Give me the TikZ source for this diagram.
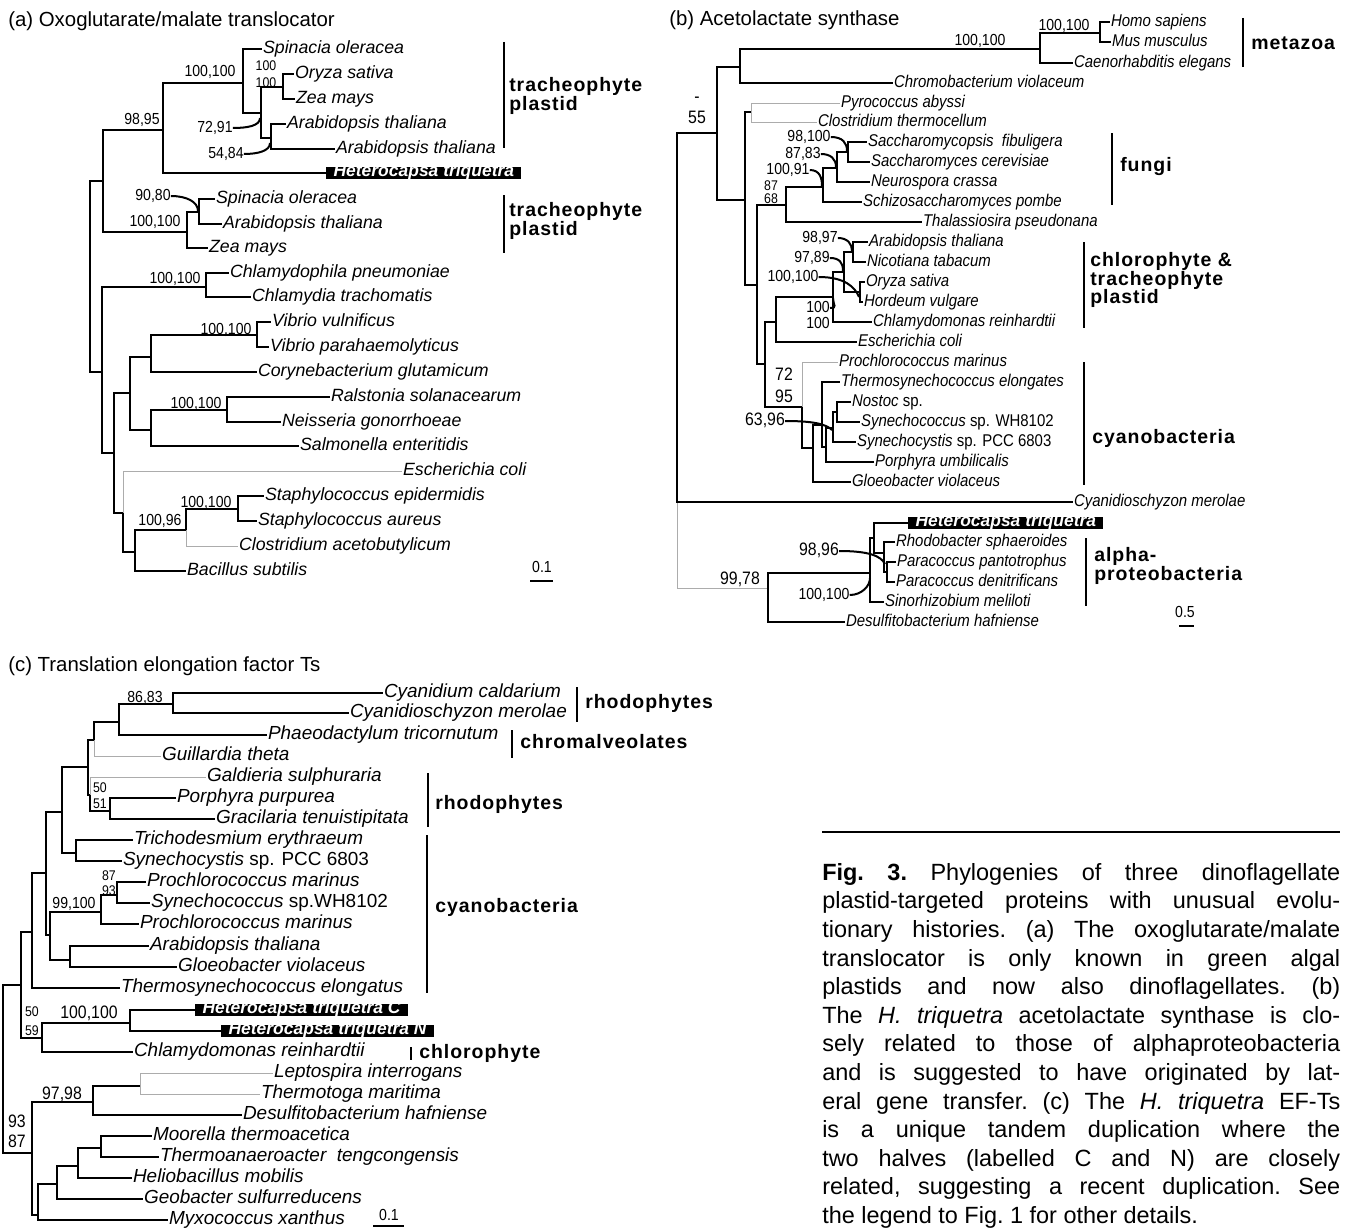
\documentclass[tikz,border=0pt]{standalone}
\usepackage{fontspec}
\setmainfont{Liberation Sans}
\newfontfamily\nrw[FakeStretch=0.88]{Liberation Sans}
\newfontfamily\cladefnt[LetterSpace=5]{Liberation Sans}

\begin{document}
\begin{tikzpicture}[x=0.75pt,y=-0.75pt,
  br/.style={line width=0.9pt},
  thk/.style={line width=1.6pt},
  lt/.style={gray!65,line width=0.7pt},
  ptr/.style={line width=1.5pt},
  bar/.style={line width=1.2pt},
  tip/.style={anchor=west,inner xsep=0.6pt,inner ysep=0pt,text height=0.74em,text depth=0.02em},
  tipa/.style={tip,font=\fontsize{13.3}{16}\selectfont\itshape},
  tipb/.style={tip,font=\nrw\fontsize{12.75}{15}\selectfont\itshape},
  tipc/.style={tip,font=\fontsize{14.2}{17}\selectfont\itshape},
  hetbox/.style={anchor=west,fill=black,text=white,inner xsep=5.5pt,inner ysep=0pt,text height=0.72em,text depth=0.22em,font=\fontsize{13.1}{15}\selectfont\bfseries\itshape},
  bs/.style={inner sep=0pt,text height=0.72em,text depth=0pt,font=\nrw\fontsize{12}{14}\selectfont},
  bsl/.style={bs,font=\nrw\fontsize{13.5}{16}\selectfont},
  bss/.style={bs,font=\nrw\fontsize{10.5}{12}\selectfont},
  clade/.style={anchor=west,align=left,inner sep=0pt,font=\cladefnt\fontsize{14.6}{14.2}\selectfont\bfseries},
  ttl/.style={anchor=base west,inner sep=0pt,font=\fontsize{15.3}{18}\selectfont}]
\useasboundingbox (0,0) rectangle (1346,1231);

% ---------------- (a) oxoglutarate/malate translocator
\node[ttl] (ta) at (8,27) {(a) Oxoglutarate/malate translocator};
\coordinate (aRoot) at (90,276);
\coordinate (aA) at (103,181);
\coordinate (aA1) at (163,130);
\coordinate (aA11) at (243,83);
\coordinate (aA111) at (261,113);
\coordinate (aOZ) at (283,87);
\coordinate (aAr) at (271,138);
\coordinate (aA2) at (187,232);
\coordinate (aSA) at (199,212);
\coordinate (aB) at (102,372);
\coordinate (aCh) at (206,287);
\coordinate (aB2) at (114,453);
\coordinate (aV) at (130,393);
\coordinate (aVC) at (151,357);
\coordinate (aVib) at (257,335);
\coordinate (aRNS) at (151,430);
\coordinate (aRN) at (227,410);
\coordinate (aE) at (123,513);
\coordinate (aSt) at (135,552);
\coordinate (aSC) at (186,530);
\coordinate (aSS) at (238,509);

\node[tipa] (a1) at (262,49) {Spinacia oleracea};
\node[tipa] (a2) at (294,74) {Oryza sativa};
\node[tipa] (a3) at (295,99) {Zea mays};
\node[tipa] (a4) at (286,124) {Arabidopsis thaliana};
\node[tipa] (a5) at (335,149) {Arabidopsis thaliana};
\node[hetbox] (a6) at (326,173) {Heterocapsa triquetra};
\node[tipa] (a7) at (215,199) {Spinacia oleracea};
\node[tipa] (a8) at (222,224) {Arabidopsis thaliana};
\node[tipa] (a9) at (208,248) {Zea mays};
\node[tipa] (a10) at (229,273) {Chlamydophila pneumoniae};
\node[tipa] (a11) at (251,297) {Chlamydia trachomatis};
\node[tipa] (a12) at (271,322) {Vibrio vulnificus};
\node[tipa] (a13) at (269,347) {Vibrio parahaemolyticus};
\node[tipa] (a14) at (257,372) {Corynebacterium glutamicum};
\node[tipa] (a15) at (330,397) {Ralstonia solanacearum};
\node[tipa] (a16) at (281,422) {Neisseria gonorrhoeae};
\node[tipa] (a17) at (299,446) {Salmonella enteritidis};
\node[tipa] (a18) at (402,471) {Escherichia coli};
\node[tipa] (a19) at (264,496) {Staphylococcus epidermidis};
\node[tipa] (a20) at (257,521) {Staphylococcus aureus};
\node[tipa] (a21) at (238,546) {Clostridium acetobutylicum};
\node[tipa] (a22) at (186,571) {Bacillus subtilis};

\draw[br] (aRoot) |- (aA) (aA) |- (aA1) (aA) |- (aA2);
\draw[br] (aA1) |- (aA11) (aA1) |- (a6);
\draw[br] (aA11) |- (a1) (aA11) |- (aA111);
\draw[br] (aA111) |- (aOZ) (aA111) |- (aAr);
\draw[br] (aOZ) |- (a2) (aOZ) |- (a3) (aAr) |- (a4) (aAr) |- (a5);
\draw[br] (aA2) |- (aSA) (aA2) |- (a9) (aSA) |- (a7) (aSA) |- (a8);
\draw[br] (aRoot) |- (aB) (aB) |- (aCh) (aB) |- (aB2);
\draw[br] (aCh) |- (a10) (aCh) |- (a11);
\draw[br] (aB2) |- (aV) (aB2) |- (aE);
\draw[br] (aV) |- (aVC) (aV) |- (aRNS);
\draw[br] (aVC) |- (aVib) (aVC) |- (a14) (aVib) |- (a12) (aVib) |- (a13);
\draw[br] (aRNS) |- (aRN) (aRNS) |- (a17) (aRN) |- (a15) (aRN) |- (a16);
\draw[lt] (aE) |- (a18);
\draw[br] (aE) |- (aSt) (aSt) |- (aSC);
\draw[thk] (aSt) |- (a22) (aSC) |- (aSS) (aSS) |- (a19);
\draw[br] (aSS) |- (a20);
\draw[lt] (aSC) |- (a21);

\node[bs] (la98) at (142,120) {98,95};
\node[bs] (la100a) at (210,72) {100,100};
\node[bss] (la100s) at (266,66) {100};
\node[bss] (la100t) at (266,83) {100};
\node[bs] (la72) at (215,128) {72,91};
\node[bs] (la54) at (226,154) {54,84};
\node[bs] (la90) at (153,196) {90,80};
\node[bs] (la100b) at (155,222) {100,100};
\node[bs] (la100c) at (175,279) {100,100};
\node[bs] (la100d) at (226,330) {100,100};
\node[bs] (la100e) at (196,404) {100,100};
\node[bs] (la100f) at (206,503) {100,100};
\node[bs] (la96) at (160,521) {100,96};
\coordinate (k72) at (260,118);
\coordinate (k54) at (270,143);
\coordinate (k90) at (198,211);
\draw[ptr] (la72.east) .. controls +(14,0) and +(0,8) .. (k72);
\draw[ptr] (la54.east) .. controls +(14,0) and +(0,8) .. (k54);
\draw[ptr] (la90.east) .. controls +(16,0) and +(0,-9) .. (k90);

\draw[bar] (504,42) -- (504,148);
\node[clade] (ca1) at (509,96) {tracheophyte\\plastid};
\draw[bar] (504,195) -- (504,253);
\node[clade] (ca2) at (509,221) {tracheophyte\\plastid};
\node[bs] (sa) at (542,568) {0.1};
\draw[br] (530,581) -- (553,581);

% ---------------- (b) acetolactate synthase
\node[ttl] (tb) at (669,26) {(b) Acetolactate synthase};
\coordinate (bRoot) at (677,360);
\coordinate (bU) at (717,133);
\coordinate (bMC) at (740,67);
\coordinate (bMet) at (1040,49);
\coordinate (bHM) at (1100,33);
\coordinate (bL) at (745,200);
\coordinate (bPC) at (751,112);
\coordinate (bR) at (757,285);
\coordinate (bF) at (786,205);
\coordinate (bF1) at (823,187);
\coordinate (bF2) at (837,168);
\coordinate (bF3) at (848,152);
\coordinate (bPl) at (765,364);
\coordinate (bGr) at (776,322);
\coordinate (bG1) at (833,297);
\coordinate (bG2) at (844,272);
\coordinate (bAN) at (853,252);
\coordinate (bOH) at (860,292);
\coordinate (bCy) at (802,407);
\coordinate (bC1) at (813,448);
\coordinate (bC2) at (822,425);
\coordinate (bC3) at (826,447);
\coordinate (bC4) at (833,428);
\coordinate (bC5) at (837,412);
\coordinate (bAl) at (768,588);
\coordinate (bP) at (870,573);
\coordinate (bQ) at (874,538);
\coordinate (bRP) at (884,553);
\coordinate (bPP) at (887,572);

\node[tipb] (b1) at (1110,22) {Homo sapiens};
\node[tipb] (b2) at (1111,42) {Mus musculus};
\node[tipb] (b3) at (1073,63) {Caenorhabditis elegans};
\node[tipb] (b4) at (893,83) {Chromobacterium violaceum};
\node[tipb] (b5) at (840,103) {Pyrococcus abyssi};
\node[tipb] (b6) at (817,122) {Clostridium thermocellum};
\node[tipb] (b7) at (867,142) {Saccharomycopsis\ \ fibuligera};
\node[tipb] (b8) at (870,162) {Saccharomyces cerevisiae};
\node[tipb] (b9) at (870,182) {Neurospora crassa};
\node[tipb] (b10) at (862,202) {Schizosaccharomyces pombe};
\node[tipb] (b11) at (922,222) {Thalassiosira pseudonana};
\node[tipb] (b12) at (868,242) {Arabidopsis thaliana};
\node[tipb] (b13) at (866,262) {Nicotiana tabacum};
\node[tipb] (b14) at (865,282) {Oryza sativa};
\node[tipb] (b15) at (863,302) {Hordeum vulgare};
\node[tipb] (b16) at (872,322) {Chlamydomonas reinhardtii};
\node[tipb] (b17) at (857,342) {Escherichia coli};
\node[tipb] (b18) at (838,362) {Prochlorococcus marinus};
\node[tipb] (b19) at (840,382) {Thermosynechococcus elongates};
\node[tipb] (b20) at (851,402) {Nostoc {\upshape sp.}};
\node[tipb] (b21) at (860,422) {Synechococcus {\upshape sp. WH8102}};
\node[tipb] (b22) at (856,442) {Synechocystis {\upshape sp. PCC 6803}};
\node[tipb] (b23) at (874,462) {Porphyra umbilicalis};
\node[tipb] (b24) at (851,482) {Gloeobacter violaceus};
\node[tipb] (b25) at (1073,502) {Cyanidioschyzon merolae};
\node[hetbox] (b26) at (908,523) {Heterocapsa triquetra};
\node[tipb] (b27) at (895,542) {Rhodobacter sphaeroides};
\node[tipb] (b28) at (896,562) {Paracoccus pantotrophus};
\node[tipb] (b29) at (895,582) {Paracoccus denitrificans};
\node[tipb] (b30) at (884,602) {Sinorhizobium meliloti};
\node[tipb] (b31) at (845,622) {Desulfitobacterium hafniense};

\draw[lt] (bRoot) |- (bAl);
\draw[br] (bRoot) |- (bU) (bRoot) |- (b25);
\draw[br] (bU) |- (bMC) (bU) |- (bL);
\draw[thk] (bMC) |- (bMet);
\draw[br] (bMC) |- (b4) (bMet) |- (bHM) (bMet) |- (b3) (bHM) |- (b1) (bHM) |- (b2);
\draw[br] (bL) |- (bPC) (bL) |- (bR);
\draw[lt] (bPC) |- (b5) (bPC) |- (b6);
\draw[br] (bR) |- (bF) (bR) |- (bPl);
\draw[br] (bF) |- (bF1) (bF) |- (b11) (bF1) |- (bF2) (bF1) |- (b10);
\draw[br] (bF2) |- (bF3) (bF2) |- (b9) (bF3) |- (b7) (bF3) |- (b8);
\draw[br] (bPl) |- (bGr) (bPl) |- (bCy);
\draw[br] (bGr) |- (bG1) (bGr) |- (b17) (bG1) |- (bG2) (bG1) |- (b16);
\draw[br] (bG2) |- (bAN) (bG2) |- (bOH) (bAN) |- (b12) (bAN) |- (b13) (bOH) |- (b14) (bOH) |- (b15);
\draw[lt] (bCy) |- (b18);
\draw[br] (bCy) |- (bC1) (bC1) |- (bC2) (bC1) |- (b24);
\draw[br] (bC2) |- (b19) (bC2) |- (bC3) (bC3) |- (bC4) (bC3) |- (b23);
\draw[br] (bC4) |- (bC5) (bC4) |- (b22) (bC5) |- (b20) (bC5) |- (b21);
\draw[br] (bAl) |- (bP) (bP) |- (bQ) (bP) |- (b30);
\draw[thk] (bAl) |- (b31);
\draw[br] (bQ) |- (b26) (bQ) |- (bRP) (bRP) |- (b27) (bRP) |- (bPP) (bPP) |- (b28) (bPP) |- (b29);

\node[bs] (lb100m) at (980,41) {100,100};
\node[bs] (lb100h) at (1064,26) {100,100};
\node[bsl] (lbdash) at (697,98) {-};
\node[bsl] (lb55) at (697,119) {55};
\node[bs] (lb98a) at (809,137) {98,100};
\node[bs] (lb87) at (803,154) {87,83};
\node[bs] (lb91) at (788,170) {100,91};
\node[bss] (lb87b) at (771,186) {87};
\node[bss] (lb68) at (771,199) {68};
\node[bs] (lb97) at (820,238) {98,97};
\node[bs] (lb89) at (812,258) {97,89};
\node[bs] (lb100p) at (793,277) {100,100};
\node[bs] (lb100g) at (818,308) {100};
\node[bs] (lb100k) at (818,324) {100};
\node[bsl] (lb72) at (784,376) {72};
\node[bsl] (lb95) at (784,398) {95};
\node[bsl] (lb63) at (765,421) {63,96};
\node[bsl] (lb98b) at (819,551) {98,96};
\node[bs] (lb100a) at (824,595) {100,100};
\node[bsl] (lb99) at (740,580) {99,78};
\coordinate (k98a) at (847,151);
\coordinate (k87) at (836,167);
\coordinate (k91) at (822,186);
\coordinate (k97) at (852,251);
\coordinate (k89) at (843,271);
\coordinate (k100p) at (859,297);
\coordinate (k100g) at (833,298);
\coordinate (k63) at (832,430);
\coordinate (k98b) at (885,564);
\coordinate (k100a) at (870,578);
\draw[ptr] (lb98a.east) .. controls +(12,0) and +(0,-8) .. (k98a);
\draw[ptr] (lb87.east) .. controls +(10,0) and +(0,-8) .. (k87);
\draw[ptr] (lb91.east) .. controls +(10,0) and +(0,-8) .. (k91);
\draw[ptr] (lb97.east) .. controls +(10,0) and +(0,-7) .. (k97);
\draw[ptr] (lb89.east) .. controls +(10,0) and +(0,-8) .. (k89);
\draw[ptr] (lb100p.east) .. controls +(26,0) and +(-4,-10) .. (k100p);
\draw[ptr] (lb100g.east) .. controls +(8,0) and +(0,7) .. (k100g);
\draw[ptr] (lb63.east) .. controls +(28,0) and +(-6,-6) .. (k63);
\draw[ptr] (lb98b.east) .. controls +(30,0) and +(-4,-8) .. (k98b);
\draw[ptr] (lb100a.east) .. controls +(12,0) and +(0,8) .. (k100a);

\draw[bar] (1243,18) -- (1243,67);
\node[clade] (cb1) at (1251,43) {metazoa};
\draw[bar] (1112,133) -- (1112,205);
\node[clade] (cb2) at (1120,167) {fungi};
\draw[bar] (1084,242) -- (1084,328);
\node[clade] (cb3) at (1090,280) {chlorophyte \&\\tracheophyte\\plastid};
\draw[bar] (1084,362) -- (1084,485);
\node[clade] (cb4) at (1092,438) {cyanobacteria};
\draw[bar] (1086,538) -- (1086,606);
\node[clade] (cb5) at (1094,566) {alpha-\\proteobacteria};
\node[bs] (sb) at (1185,613) {0.5};
\draw[br] (1179,626) -- (1194,626);

% ---------------- (c) translation elongation factor Ts
\node[ttl] (tc) at (8,671) {(c) Translation elongation factor Ts};
\coordinate (cRoot) at (3,1070);
\coordinate (cA) at (21,985);
\coordinate (cA1) at (32,932);
\coordinate (cA2) at (46,873);
\coordinate (cA3) at (62,812);
\coordinate (cA4) at (88,767);
\coordinate (cA5) at (94,740);
\coordinate (cA6) at (119,722);
\coordinate (cCC) at (173,704);
\coordinate (cRh) at (90,795);
\coordinate (cPG) at (110,811);
\coordinate (cTS) at (76,853);
\coordinate (cCy) at (50,935);
\coordinate (cPr) at (101,912);
\coordinate (cPS) at (117,895);
\coordinate (cAG) at (70,960);
\coordinate (cHC) at (42,1038);
\coordinate (cH) at (130,1023);
\coordinate (cB) at (32,1153);
\coordinate (cB1) at (93,1102);
\coordinate (cLT) at (140,1086);
\coordinate (cB2) at (38,1215);
\coordinate (cB3) at (57,1184);
\coordinate (cB4) at (78,1166);
\coordinate (cMT) at (101,1148);

\node[tipc] (c1) at (383,693) {Cyanidium caldarium};
\node[tipc] (c2) at (349,713) {Cyanidioschyzon merolae};
\node[tipc] (c3) at (267,735) {Phaeodactylum tricornutum};
\node[tipc] (c4) at (161,756) {Guillardia theta};
\node[tipc] (c5) at (206,777) {Galdieria sulphuraria};
\node[tipc] (c6) at (176,798) {Porphyra purpurea};
\node[tipc] (c7) at (215,819) {Gracilaria tenuistipitata};
\node[tipc] (c8) at (133,840) {Trichodesmium erythraeum};
\node[tipc] (c9) at (122,861) {Synechocystis {\upshape sp. PCC 6803}};
\node[tipc] (c10) at (146,882) {Prochlorococcus marinus};
\node[tipc] (c11) at (150,903) {Synechococcus {\upshape sp.WH8102}};
\node[tipc] (c12) at (139,924) {Prochlorococcus marinus};
\node[tipc] (c13) at (149,946) {Arabidopsis thaliana};
\node[tipc] (c14) at (177,967) {Gloeobacter violaceus};
\node[tipc] (c15) at (120,988) {Thermosynechococcus elongatus};
\node[hetbox] (c16) at (195,1010) {Heterocapsa triquetra C};
\node[hetbox] (c17) at (221,1031) {Heterocapsa triquetra N};
\node[tipc] (c18) at (133,1052) {Chlamydomonas reinhardtii};
\node[tipc] (c19) at (273,1073) {Leptospira interrogans};
\node[tipc] (c20) at (260,1094) {Thermotoga maritima};
\node[tipc] (c21) at (242,1115) {Desulfitobacterium hafniense};
\node[tipc] (c22) at (152,1136) {Moorella thermoacetica};
\node[tipc] (c23) at (159,1157) {Thermoanaeroacter\ \ tengcongensis};
\node[tipc] (c24) at (132,1178) {Heliobacillus mobilis};
\node[tipc] (c25) at (143,1199) {Geobacter sulfurreducens};
\node[tipc] (c26) at (168,1220) {Myxococcus xanthus};

\draw[br] (cRoot) |- (cA) (cRoot) |- (cB);
\draw[br] (cA) |- (cA1) (cA) |- (cHC) (cA1) |- (cA2) (cA1) |- (c15);
\draw[br] (cA2) |- (cA3) (cA2) |- (cCy) (cA3) |- (cA4) (cA3) |- (cTS);
\draw[br] (cA4) |- (cA5) (cA4) |- (cRh) (cA5) |- (cA6);
\draw[lt] (cA5) |- (c4);
\draw[thk] (cA6) |- (cCC) (cA6) |- (c3);
\draw[br] (cCC) |- (c1) (cCC) |- (c2);
\draw[lt] (cRh) |- (c5);
\draw[br] (cRh) |- (cPG) (cPG) |- (c7);
\draw[thk] (cPG) |- (c6);
\draw[br] (cTS) |- (c8);
\draw[thk] (cTS) |- (c9);
\draw[br] (cCy) |- (cPr) (cCy) |- (cAG) (cPr) |- (cPS) (cPr) |- (c12) (cPS) |- (c10);
\draw[thk] (cPS) |- (c11);
\draw[br] (cAG) |- (c13) (cAG) |- (c14);
\draw[br] (cHC) |- (cH) (cHC) |- (c18) (cH) |- (c16) (cH) |- (c17);
\draw[br] (cB) |- (cB1) (cB) |- (cB2) (cB1) |- (cLT) (cB1) |- (c21);
\draw[lt] (cLT) |- (c19) (cLT) |- (c20);
\draw[br] (cB2) |- (cB3) (cB2) |- (c26) (cB3) |- (cB4) (cB3) |- (c25);
\draw[br] (cB4) |- (cMT) (cB4) |- (c24) (cMT) |- (c22) (cMT) |- (c23);

\node[bs] (lc86) at (145,698) {86,83};
\node[bss] (lc50) at (100,788) {50};
\node[bss] (lc51) at (100,804) {51};
\node[bss] (lc87) at (109,876) {87};
\node[bss] (lc93) at (109,891) {93};
\node[bs] (lc99) at (74,904) {99,100};
\node[bss] (lc50b) at (32,1012) {50};
\node[bss] (lc59) at (32,1031) {59};
\node[bsl] (lc100) at (89,1014) {100,100};
\node[bsl] (lc97) at (62,1095) {97,98};
\node[bsl] (lc93b) at (17,1123) {93};
\node[bsl] (lc87b) at (17,1143) {87};

\draw[bar] (577,687) -- (577,722);
\node[clade] (cc1) at (585,703) {rhodophytes};
\draw[bar] (512,730) -- (512,758);
\node[clade] (cc2) at (520,742) {chromalveolates};
\draw[bar] (428,773) -- (428,827);
\node[clade] (cc3) at (435,804) {rhodophytes};
\draw[bar] (427,835) -- (427,993);
\node[clade] (cc4) at (435,907) {cyanobacteria};
\draw[bar] (411,1047) -- (411,1060);
\node[clade] (cc5) at (419,1053) {chlorophyte};
\node[bs] (sc) at (389,1216) {0.1};
\draw[br] (373,1226) -- (404,1226);

% ---------------- caption
\draw[line width=0.8pt] (822,832) -- (1340,832);
\node[anchor=north west,inner sep=0pt,font=\fontsize{17.6}{21.45}\selectfont\frenchspacing] (cap) at (822,863) {\vbox{\hsize=388.5pt
\hbox to\hsize{\textbf{Fig. 3.} Phylogenies of three dinoflagellate}
\hbox to\hsize{plastid-targeted proteins with unusual evolu-}
\hbox to\hsize{tionary histories. (a) The oxoglutarate/malate}
\hbox to\hsize{translocator is only known in green algal}
\hbox to\hsize{plastids and now also dinoflagellates. (b)}
\hbox to\hsize{The \textit{H. triquetra} acetolactate synthase is clo-}
\hbox to\hsize{sely related to those of alphaproteobacteria}
\hbox to\hsize{and is suggested to have originated by lat-}
\hbox to\hsize{eral gene transfer. (c) The \textit{H. triquetra} EF-Ts}
\hbox to\hsize{is a unique tandem duplication where the}
\hbox to\hsize{two halves (labelled C and N) are closely}
\hbox to\hsize{related, suggesting a recent duplication. See}
\hbox to\hsize{the legend to Fig. 1 for other details.\hfil}}};
\end{tikzpicture}
\end{document}
